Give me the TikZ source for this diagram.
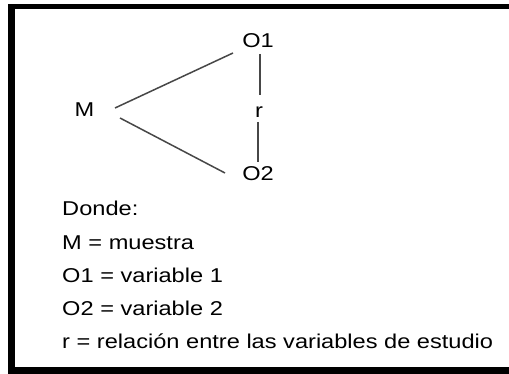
\documentclass[tikz,border=0pt]{standalone}
\usepackage{fontspec}
\setmainfont{Liberation Sans}
\begin{document}
\begin{tikzpicture}[x=1pt,y=-1pt,
  lbl/.style={font=\fontsize{20}{20}\selectfont, xscale=1.18, inner sep=0pt, text=black},
  conn/.style={draw=black!72, line width=1.5pt},
  frame/.style={fill=black, draw=none}]
\fill[white] (0,0) rectangle (509,374);
\useasboundingbox (0,0) rectangle (509,374);
% frame
\fill[frame] (8,4) rectangle (509,9);
\fill[frame] (8,4) rectangle (15,374);
\fill[frame] (8,367) rectangle (509,374);
% diagram labels
\node[lbl, anchor=base] (O1) at (258,48) {O1};
\node[lbl, anchor=base] (M) at (84.5,117) {M};
\node[lbl, anchor=base] (r) at (259,118) {r};
\node[lbl, anchor=base] (O2) at (258,181) {O2};
% connector endpoints
\coordinate (m1) at (115,108);
\coordinate (o1a) at (233,53);
\coordinate (m2) at (120,118);
\coordinate (o2a) at (225,173);
\coordinate (o1b) at (260,54);
\coordinate (ra) at (260,95);
\coordinate (rb) at (258,122);
\coordinate (o2b) at (258,162);
\draw[conn] (m1) -- (o1a);
\draw[conn] (m2) -- (o2a);
\draw[conn] (o1b) -- (ra);
\draw[conn] (rb) -- (o2b);
% legend
\node[lbl, anchor=base west] (l0) at (62,216) {Donde:};
\node[lbl, anchor=base west] (l1) at (62,250) {M = muestra};
\node[lbl, anchor=base west] (l2) at (62,283) {O1 = variable 1};
\node[lbl, anchor=base west] (l3) at (62,316) {O2 = variable 2};
\node[lbl, anchor=base west] (l4) at (62,348) {r = relación entre las variables de estudio};
\end{tikzpicture}
\end{document}
